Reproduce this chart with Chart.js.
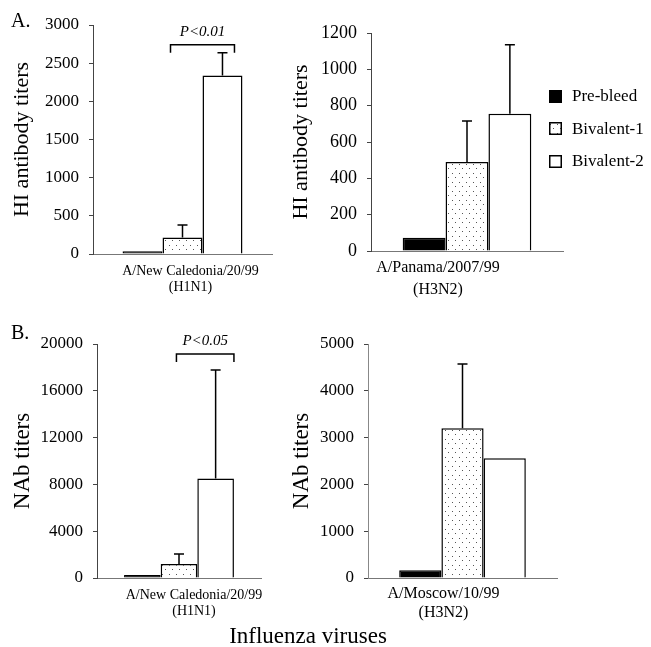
<!DOCTYPE html>
<html>
<head>
<meta charset="utf-8">
<script src="https://cdn.jsdelivr.net/npm/chart.js@4.4.0/dist/chart.umd.min.js"></script>
<style>
  body { margin: 0; background: #fff; }
  #wrap { position: relative; width: 651px; height: 647px; font-family: "Liberation Serif", "Times New Roman", serif; color: #000; }
  canvas { position: absolute; }
  .txt { position: absolute; white-space: nowrap; }
  #legend { position: absolute; left: 549px; top: 80px; }
  #legend .row { display: flex; align-items: center; height: 32.5px; font-size: 17px; }
  #legend canvas { position: static; margin-right: 10px; }
</style>
</head>
<body>
<div id="wrap">
  <canvas id="hi_h1" width="290" height="320" style="left:0;top:0"></canvas>
  <canvas id="hi_h3" width="361" height="320" style="left:290px;top:0"></canvas>
  <canvas id="nab_h1" width="290" height="327" style="left:0;top:320px"></canvas>
  <canvas id="nab_h3" width="361" height="327" style="left:290px;top:320px"></canvas>
  <div class="txt" style="left:11px;top:10px;font-size:20px;line-height:20px">A.</div>
  <div class="txt" style="left:11px;top:322px;font-size:20px;line-height:20px">B.</div>
  <div class="txt" style="left:308px;top:624px;font-size:23px;line-height:23px;transform:translateX(-50%)">Influenza viruses</div>
  <div id="legend"></div>
</div>
<script>
const serif = '"Liberation Serif", "Times New Roman", serif';

const series = ['Pre-bleed', 'Bivalent-1', 'Bivalent-2'];

const hiH1N1 = [35, 215, 2340];
const hiH1N1Err = [0, 165, 295];
const hiH3N2 = [73, 490, 755];
const hiH3N2Err = [0, 225, 380];
const nabH1N1 = [250, 1200, 8500];
const nabH1N1Err = [0, 850, 9280];
const nabH3N2 = [165, 3200, 2560];
const nabH3N2Err = [0, 1370, 0];

const strainNewCaledonia = ['A/New Caledonia/20/99', '(H1N1)'];
const strainPanama = ['A/Panama/2007/99', '(H3N2)'];
const strainMoscow = ['A/Moscow/10/99', '(H3N2)'];

// dotted fill for Bivalent-1
function dots() {
    const c = document.createElement('canvas');
    c.width = 7;
    c.height = 9;
    const g = c.getContext('2d');
    g.fillStyle = '#fff';
    g.fillRect(0, 0, 7, 9);
    g.fillStyle = '#555';
    g.fillRect(1, 2, 1, 1);
    g.fillRect(4, 6, 1, 1);
    return g.createPattern(c, 'repeat');
}

const fills = ['#000', dots(), '#fff'];

function sets(values) {
    return series.map((name, i) => ({
        label: name,
        data: [values[i]],
        backgroundColor: fills[i],
        borderColor: '#000',
        borderWidth: 1.5,
        categoryPercentage: 0.67,
        barPercentage: 1
    }));
}

const errorBars = {
    id: 'errorBars',
    afterDatasetsDraw(chart, args, opts) {
        const ctx = chart.ctx;
        const y = chart.scales.y;
        ctx.save();
        ctx.strokeStyle = '#000';
        ctx.lineWidth = 1.5;
        opts.errors.forEach((e, i) => {
            if (!e) return;
            const bar = chart.getDatasetMeta(i).data[0];
            const top = y.getPixelForValue(chart.data.datasets[i].data[0] + e);
            ctx.beginPath();
            ctx.moveTo(bar.x, bar.y);
            ctx.lineTo(bar.x, top);
            ctx.moveTo(bar.x - 5, top);
            ctx.lineTo(bar.x + 5, top);
            ctx.stroke();
        });
        const b = opts.bracket;
        if (b) {
            const b1 = chart.getDatasetMeta(b.from).data[0];
            const b2 = chart.getDatasetMeta(b.to).data[0];
            const x1 = b1.x - b.inset[0] * b1.width;
            const x2 = b2.x + b.inset[1] * b2.width;
            const yb = y.getPixelForValue(b.value);
            ctx.beginPath();
            ctx.moveTo(x1, yb + 8);
            ctx.lineTo(x1, yb);
            ctx.lineTo(x2, yb);
            ctx.lineTo(x2, yb + 8);
            ctx.stroke();
            ctx.fillStyle = '#000';
            ctx.font = 'italic 15px ' + serif;
            ctx.textAlign = 'center';
            ctx.textBaseline = 'middle';
            ctx.fillText(b.text, (x1 + x2) / 2, yb - 13);
        }
        ctx.restore();
    }
};

function panel(id, cfg) {
    return new Chart(document.getElementById(id), {
        type: 'bar',
        data: { labels: [cfg.label], datasets: sets(cfg.values) },
        plugins: [errorBars],
        options: {
            responsive: false,
            animation: false,
            devicePixelRatio: 1,
            layout: { padding: cfg.pad },
            plugins: {
                legend: { display: false },
                tooltip: { enabled: false },
                errorBars: { errors: cfg.errors, bracket: cfg.bracket }
            },
            scales: {
                x: {
                    grid: { display: false, drawTicks: false },
                    border: { display: true, color: '#777', width: 1 },
                    ticks: {
                        color: '#000',
                        font: { family: serif, size: cfg.xFont, lineHeight: cfg.xLine },
                        padding: cfg.xPad,
                        labelOffset: cfg.labelOffset,
                        maxRotation: 0,
                        autoSkip: false
                    },
                    afterFit: (scale) => { scale.height = cfg.xHeight; }
                },
                y: {
                    min: 0,
                    max: cfg.max,
                    ticks: {
                        stepSize: cfg.step,
                        color: '#000',
                        padding: 10,
                        format: { useGrouping: false },
                        font: { family: serif, size: cfg.yFont }
                    },
                    grid: { drawOnChartArea: false, drawTicks: true, tickLength: 4, color: '#444' },
                    border: { color: cfg.axisColor, dash: cfg.dash, width: 1 },
                    title: {
                        display: true,
                        text: cfg.title,
                        color: '#000',
                        padding: 0,
                        font: { family: serif, size: cfg.titleSize, lineHeight: 1 }
                    },
                    afterFit: (scale) => { scale.width = cfg.yWidth; }
                }
            }
        }
    });
}

panel('hi_h1', {
    label: strainNewCaledonia, values: hiH1N1, errors: hiH1N1Err,
    max: 3000, step: 500, title: 'HI antibody titers', titleSize: 22,
    pad: { left: 11, top: 25, right: 18, bottom: 0 },
    yWidth: 82, xHeight: 66, yFont: 17, xFont: 14, xLine: 1.1, xPad: 10, labelOffset: 8,
    axisColor: '#444', dash: [1, 1],
    bracket: { from: 1, to: 2, value: 2740, text: 'P<0.01', inset: [0.3, 0.3] }
});

const hiPanama = panel('hi_h3', {
    label: strainPanama, values: hiH3N2, errors: hiH3N2Err,
    max: 1200, step: 200, title: 'HI antibody titers', titleSize: 22,
    pad: { left: 0, top: 33, right: 88, bottom: 0 },
    yWidth: 81, xHeight: 69, yFont: 18, xFont: 16, xLine: 1.35, xPad: 6, labelOffset: -29,
    axisColor: '#444', dash: [1, 1]
});

panel('nab_h1', {
    label: strainNewCaledonia, values: nabH1N1, errors: nabH1N1Err,
    max: 20000, step: 4000, title: 'NAb titers', titleSize: 23,
    pad: { left: 11, top: 24, right: 29, bottom: 0 },
    yWidth: 86, xHeight: 69, yFont: 17, xFont: 14, xLine: 1.1, xPad: 10, labelOffset: 15,
    axisColor: '#444', dash: [1, 1],
    bracket: { from: 1, to: 2, value: 19150, text: 'P<0.05', inset: [0.07, 0.5] }
});

panel('nab_h3', {
    label: strainMoscow, values: nabH3N2, errors: nabH3N2Err,
    max: 5000, step: 1000, title: 'NAb titers', titleSize: 23,
    pad: { left: 0, top: 24, right: 94, bottom: 0 },
    yWidth: 78, xHeight: 69, yFont: 17, xFont: 16, xLine: 1.2, xPad: 6, labelOffset: -19,
    axisColor: '#888', dash: []
});

// html legend built from the chart's own legend items
const legendBox = document.getElementById('legend');
Chart.defaults.plugins.legend.labels.generateLabels(hiPanama).forEach(item => {
    const row = document.createElement('div');
    row.className = 'row';
    const sw = document.createElement('canvas');
    sw.width = 13;
    sw.height = 13;
    const g = sw.getContext('2d');
    g.fillStyle = item.fillStyle;
    g.fillRect(0, 0, 13, 13);
    g.strokeStyle = '#000';
    g.lineWidth = 1.5;
    g.strokeRect(0.75, 0.75, 11.5, 11.5);
    row.appendChild(sw);
    row.appendChild(document.createTextNode(item.text));
    legendBox.appendChild(row);
});
</script>
</body>
</html>
